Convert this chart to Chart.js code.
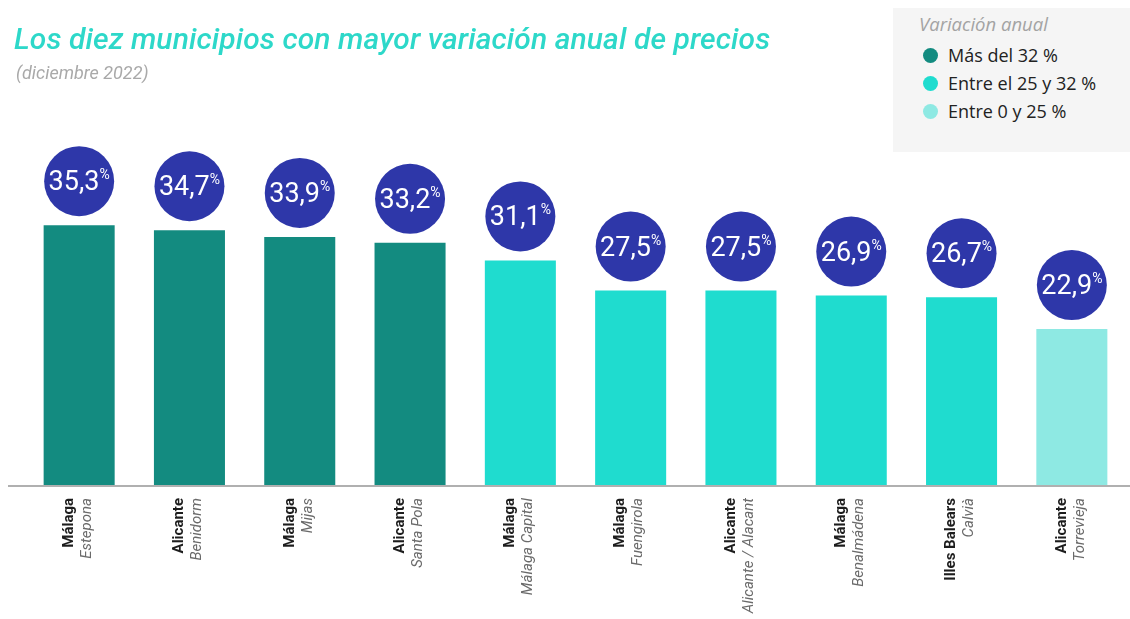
<!DOCTYPE html>
<html lang="es">
<head>
<meta charset="utf-8">
<script src="https://cdn.jsdelivr.net/npm/chart.js@4"></script>
<style>
  html, body { margin: 0; padding: 0; background: #fff; }
  #wrap { position: relative; width: 1130px; height: 619px; overflow: hidden; }
  #chart { position: absolute; left: 0; top: 0; }
  .title { position: absolute; left: 14px; top: 21px; font-family: Roboto, sans-serif; font-style: italic; font-weight: 500; font-size: 30px; color: #2dd8c9; white-space: nowrap; letter-spacing: 0.1px; }
  .sub { position: absolute; left: 16px; top: 62px; font-family: Roboto, sans-serif; font-style: italic; font-size: 18px; color: #a9a9a9; }
  .legend { position: absolute; left: 893px; top: 8px; width: 237px; height: 144px; background: #f5f5f5; font-family: "Open Sans", sans-serif; }
  .legend .lt { position: absolute; left: 26px; top: 3px; font-style: italic; font-size: 18.5px; color: #a3a3a3; }
  .legend .it { position: absolute; left: 30px; font-size: 18px; color: #222; white-space: nowrap; }
  .legend .dot { display: inline-block; width: 15px; height: 15px; border-radius: 50%; vertical-align: -1px; margin-right: 10px; }
</style>
</head>
<body>
<div id="wrap">
  <canvas id="chart" width="1130" height="619"></canvas>
  <div class="title">Los diez municipios con mayor variación anual de precios</div>
  <div class="sub">(diciembre 2022)</div>
  <div class="legend">
    <div class="lt">Variación anual</div>
    <div class="it" style="top:35px"><span class="dot" style="background:#138b80"></span>Más del 32 %</div>
    <div class="it" style="top:63px"><span class="dot" style="background:#1fdccf"></span>Entre el 25 y 32 %</div>
    <div class="it" style="top:91px"><span class="dot" style="background:#8ee9e3"></span>Entre 0 y 25 %</div>
  </div>
</div>
<script>
const provincias = ['Málaga', 'Alicante', 'Málaga', 'Alicante', 'Málaga', 'Málaga', 'Alicante', 'Málaga', 'Illes Balears', 'Alicante'];
const municipios = ['Estepona', 'Benidorm', 'Mijas', 'Santa Pola', 'Málaga Capital', 'Fuengirola', 'Alicante / Alacant', 'Benalmádena', 'Calvià', 'Torrevieja'];
const variacion = [35.3, 34.7, 33.9, 33.2, 31.1, 27.5, 27.5, 26.9, 26.7, 22.9];

function colorFor(v) {
  if (v > 32) return '#138b80';
  if (v >= 25) return '#1fdccf';
  return '#8ee9e3';
}

const bubbles = {
  id: 'bubbles',
  afterDatasetsDraw(chart) {
    const ctx = chart.ctx;
    const meta = chart.getDatasetMeta(0);
    const R = 35;
    ctx.save();
    meta.data.forEach((bar, i) => {
      const cx = bar.x;
      const cy = bar.y - 9 - R;
      ctx.beginPath();
      ctx.arc(cx, cy, R, 0, Math.PI * 2);
      ctx.fillStyle = '#2e37a9';
      ctx.fill();
      const num = variacion[i].toFixed(1).replace('.', ',');
      ctx.font = '27px Roboto';
      const w1 = ctx.measureText(num).width;
      ctx.font = '14px Roboto';
      const w2 = ctx.measureText('%').width;
      const x0 = cx - (w1 + w2) / 2;
      ctx.fillStyle = '#fff';
      ctx.textAlign = 'left';
      ctx.textBaseline = 'alphabetic';
      ctx.font = '27px Roboto';
      ctx.fillText(num, x0, cy + 9);
      ctx.font = '14px Roboto';
      ctx.fillText('%', x0 + w1, cy - 2);
    });
    ctx.restore();
  },
  afterDraw(chart) {
    const ctx = chart.ctx;
    const xs = chart.scales.x;
    const base = chart.chartArea.bottom;
    ctx.save();
    ctx.strokeStyle = '#b0b0b0';
    ctx.lineWidth = 2;
    ctx.beginPath();
    ctx.moveTo(8, base + 1);
    ctx.lineTo(1130, base + 1);
    ctx.stroke();
    ctx.textAlign = 'right';
    ctx.textBaseline = 'middle';
    provincias.forEach((p, i) => {
      const x = xs.getPixelForValue(i);
      ctx.save();
      ctx.translate(x - 10, base + 13);
      ctx.rotate(-Math.PI / 2);
      ctx.font = 'bold 15px Roboto';
      ctx.fillStyle = '#1d1d1d';
      ctx.fillText(p, 0, 0);
      ctx.restore();
      ctx.save();
      ctx.translate(x + 8, base + 13);
      ctx.rotate(-Math.PI / 2);
      ctx.font = 'italic 15px Roboto';
      ctx.fillStyle = '#6a6a6a';
      ctx.fillText(municipios[i], 0, 0);
      ctx.restore();
    });
    ctx.restore();
  }
};

new Chart(document.getElementById('chart'), {
  type: 'bar',
  data: {
    labels: municipios,
    datasets: [{
      data: variacion,
      backgroundColor: variacion.map(colorFor),
      borderWidth: 0,
      categoryPercentage: 1,
      barPercentage: 0.644
    }]
  },
  options: {
    responsive: false,
    animation: false,
    layout: { padding: { left: 24, right: 3, top: 102, bottom: 134 } },
    scales: {
      x: { display: false },
      y: { display: false, min: 4.3, max: 50 }
    },
    plugins: {
      legend: { display: false },
      tooltip: { enabled: false }
    }
  },
  plugins: [bubbles]
});
</script>
</body>
</html>
